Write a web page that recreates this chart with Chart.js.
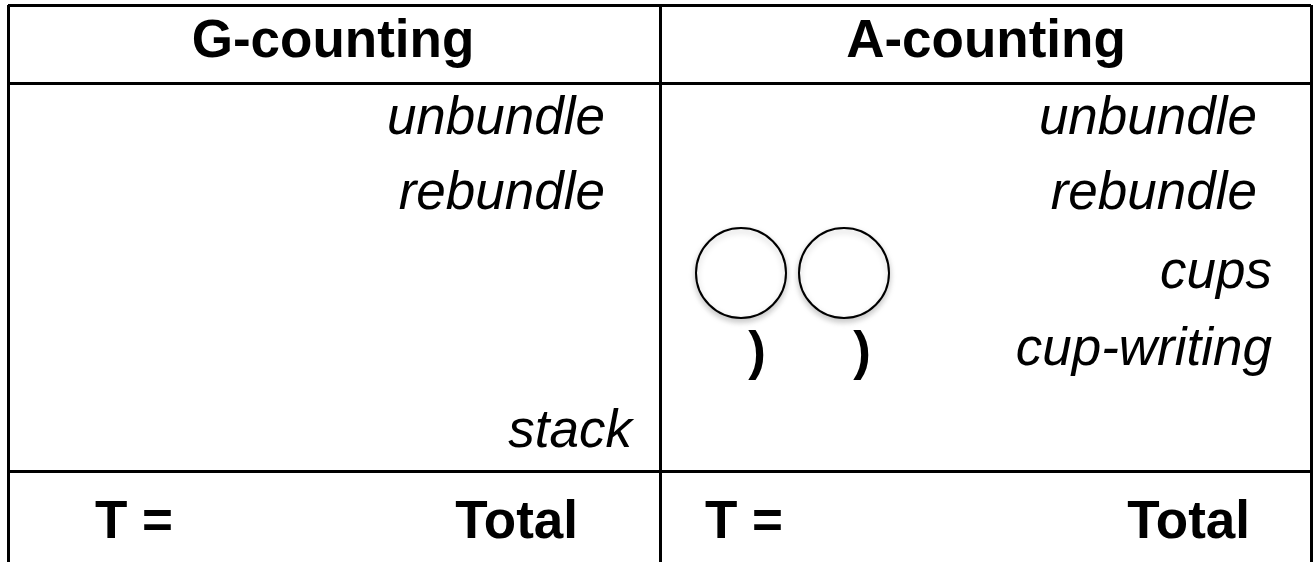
<!DOCTYPE html>
<html>
<head>
<meta charset="utf-8">
<script src="https://cdn.jsdelivr.net/npm/chart.js@4/dist/chart.umd.min.js"></script>
<style>
    html, body { margin: 0; padding: 0; background: #fff; }
    #wrap { width: 1313px; height: 562px; position: relative; }
</style>
</head>
<body>
<div id="wrap"><canvas id="tableChart"></canvas></div>
<script>
// ===========================
// DIAGRAM DATA
// ===========================

// column headings
const columns = ['G-counting', 'A-counting'];

// step words in each column
const gSteps = ['unbundle', 'rebundle', 'stack'];
const aSteps = ['unbundle', 'rebundle', 'cups', 'cup-writing'];

// bottom row
const totalRow = ['T =', 'Total'];

// the two cups and the marks under them
const cupX = [741, 844];
const cupY = [273, 273];
const cupMarks = [')', ')'];

// table rule positions (in the diagram's own units)
const columnRules = [8, 660, 1311];
const rowRules = [5, 83, 471];

// ===========================
// LAYOUT
// ===========================

const BOLD = 'bold 53px "Liberation Sans", Arial, sans-serif';
const ITALIC = 'italic 53px "Liberation Sans", Arial, sans-serif';

const headerX = [333, 986];
const headerBase = 57;
const gStepX = [605, 605, 632];
const gStepBase = [134, 209, 447];
const aStepX = [1257, 1257, 1272, 1272];
const aStepBase = [134, 209, 288, 365];
const totalLeftX = [95, 705];
const totalRightX = [578, 1250];
const totalBase = 538;
const markX = [757, 862];
const markBase = 369;

/**
 * Draw text labels through the chart's scales
 */
const labelPlugin = {
    id: 'labels',
    beforeDatasetsDraw(chart) {
        // soft shadow under the cups
        const ctx = chart.ctx;
        ctx.save();
        ctx.shadowColor = 'rgba(0,0,0,0.22)';
        ctx.shadowBlur = 6;
        ctx.shadowOffsetY = 3;
    },
    afterDatasetsDraw(chart) {
        const { ctx, scales: { x, y } } = chart;
        ctx.restore();
        ctx.save();
        ctx.fillStyle = '#000';
        ctx.textBaseline = 'alphabetic';

        const put = (text, vx, vy, align, font) => {
            ctx.font = font;
            ctx.textAlign = align;
            ctx.fillText(text, x.getPixelForValue(vx), y.getPixelForValue(vy));
        };

        columns.forEach((c, i) => put(c, headerX[i], headerBase, 'center', BOLD));
        gSteps.forEach((s, i) => put(s, gStepX[i], gStepBase[i], 'right', ITALIC));
        aSteps.forEach((s, i) => put(s, aStepX[i], aStepBase[i], 'right', ITALIC));
        cupMarks.forEach((m, i) => put(m, markX[i], markBase, 'center', BOLD));

        for (let i = 0; i < 2; i++) {
            put(totalRow[0], totalLeftX[i], totalBase, 'left', BOLD);
            put(totalRow[1], totalRightX[i], totalBase, 'right', BOLD);
        }
        ctx.restore();
    }
};

function ruleAxis(rules, min, max, reverse) {
    return {
        type: 'linear',
        min: min,
        max: max,
        reverse: reverse,
        afterBuildTicks: (scale) => {
            scale.ticks = rules.map(v => ({ value: v }));
        },
        ticks: { display: false },
        border: { display: false },
        grid: {
            color: '#000',
            lineWidth: 3,
            drawTicks: false
        }
    };
}

new Chart(document.getElementById('tableChart'), {
    type: 'scatter',
    data: {
        datasets: [{
            label: 'cups',
            data: cupX.map((v, i) => ({ x: v, y: cupY[i] })),
            pointRadius: 45,
            pointBorderWidth: 2,
            borderColor: '#000',
            backgroundColor: '#fff',
            pointHoverRadius: 45
        }]
    },
    options: {
        responsive: true,
        maintainAspectRatio: false,
        animation: false,
        events: [],
        layout: {
            autoPadding: false,
            padding: { left: 8, top: 5, right: 2, bottom: 0 }
        },
        plugins: {
            legend: { display: false },
            tooltip: { enabled: false }
        },
        scales: {
            x: ruleAxis(columnRules, 8, 1311, false),
            y: ruleAxis(rowRules, 5, 562, true)
        }
    },
    plugins: [labelPlugin]
});
</script>
</body>
</html>
